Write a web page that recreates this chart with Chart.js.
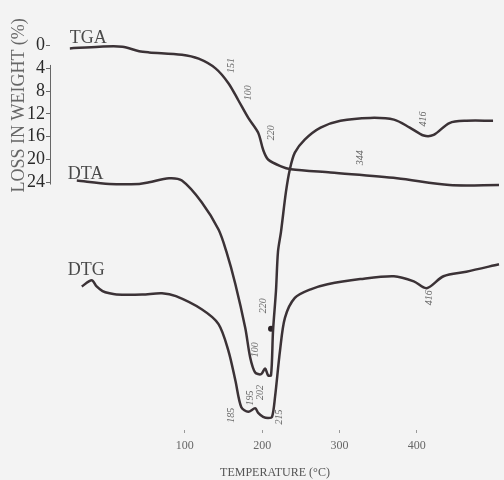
<!DOCTYPE html>
<html>
<head>
<meta charset="utf-8">
<script src="https://cdn.jsdelivr.net/npm/chart.js@4/dist/chart.umd.min.js"></script>
<style>
    html, body { margin: 0; padding: 0; background: #f3f3f3; }
    #wrap { width: 504px; height: 480px; }
</style>
</head>
<body>
<div id="wrap"><canvas id="thermo" width="504" height="480"></canvas></div>
<script>
// temperature in degC, loss in weight in % (DTA / DTG share the same vertical units, offset below)
const tgaTemp = [-48.7, -10.3, 19.2, 41.0, 53.8, 96.2, 117.9, 139.7, 156.4, 169.2, 182.1, 194.9, 201.3, 207.7, 224.4, 237.2, 288.5, 374.4, 442.3, 506.4];
const tgaLoss = [0.5, 0.2, 0.2, 1.0, 1.2, 1.6, 2.3, 4.0, 6.6, 9.6, 12.7, 15.3, 18.3, 20.0, 21.2, 21.7, 22.3, 23.3, 24.5, 24.5];

const dtaTemp = [-39.7, 2.6, 41.0, 53.8, 79.5, 96.2, 121.8, 143.6, 153.8, 165.4, 178.2, 184.6, 191.0, 198.7, 203.8, 207.7, 211.5, 214.1, 217.9, 220.5, 224.4, 230.8, 235.9, 242.3, 255.1, 275.6, 301.3, 339.7, 370.5, 391.0, 409.0, 421.8, 442.3, 464.1, 498.7];
const dtaVal = [23.7, 24.3, 24.3, 24.0, 23.3, 23.7, 27.5, 32.3, 36.2, 41.9, 49.6, 54.8, 57.4, 57.7, 56.7, 57.9, 57.9, 50.1, 43.1, 36.2, 32.7, 25.7, 21.7, 18.8, 16.5, 14.4, 13.2, 12.7, 13.0, 14.4, 15.8, 15.7, 13.6, 13.2, 13.2];

const dtgTemp = [-33.3, -20.5, -14.1, -6.4, 2.6, 11.5, 44.9, 70.5, 88.5, 121.8, 143.6, 156.4, 165.4, 173.1, 182.1, 191.0, 194.9, 201.3, 207.7, 212.8, 216.7, 223.1, 229.5, 242.3, 262.8, 284.6, 326.9, 370.5, 396.2, 412.8, 434.6, 464.1, 506.4];
const dtgVal = [42.3, 41.2, 42.3, 43.1, 43.5, 43.7, 43.7, 43.5, 44.0, 46.3, 48.9, 53.6, 58.8, 63.5, 64.3, 63.7, 64.5, 65.2, 65.4, 65.2, 61.7, 53.6, 47.8, 44.3, 42.8, 41.9, 41.0, 40.5, 41.4, 42.6, 40.5, 39.7, 38.4];

const blobTemp = [211.5];
const blobVal = [49.7];

const xTicks = [100, 200, 300, 400];
const yTicks = [0, 4, 8, 12, 16, 20, 24];

const curveNames = ['TGA', 'DTA', 'DTG'];
const nameTemp = [-48.7, -51.3, -51.3];
const nameVal = [-0.4, 23.5, 40.2];

const noteText = ['151', '100', '220', '344', '416', '220', '100', '185', '195', '202', '215', '416'];
const noteTemp = [160.3, 182.1, 211.5, 326.9, 409.0, 201.3, 191.0, 160.3, 184.6, 197.4, 221.8, 416.7];
const noteVal = [3.5, 8.3, 15.3, 19.7, 12.9, 45.7, 53.4, 64.9, 61.9, 60.9, 65.2, 44.3];

const ink = '#3b3236';
const serif = '"Liberation Serif", "DejaVu Serif", serif';

const toPoints = (xs, ys) => xs.map((t, i) => ({ x: t, y: ys[i] }));

const lineSet = (label, xs, ys) => ({
    label: label,
    data: toPoints(xs, ys),
    borderColor: ink,
    borderWidth: 2.5,
    pointRadius: 0,
    tension: 0.3,
    fill: false
});

// no extra room for edge labels, the chart area is set by the fixed axis sizes
const noPad = s => {
    s.paddingTop = 0;
    s.paddingBottom = 0;
    s.paddingLeft = 0;
    s.paddingRight = 0;
};

const decor = {
    id: 'decor',
    beforeDraw(chart) {
        const ctx = chart.ctx;
        ctx.save();
        ctx.fillStyle = '#f3f3f3';
        ctx.fillRect(0, 0, chart.width, chart.height);
        ctx.restore();
    },
    afterDraw(chart) {
        const { ctx, scales: { x, y } } = chart;
        ctx.save();

        // short axis line beside the 4..24 ticks
        ctx.strokeStyle = '#666';
        ctx.lineWidth = 1;
        ctx.beginPath();
        ctx.moveTo(x.left + 0.5, y.getPixelForValue(3.4));
        ctx.lineTo(x.left + 0.5, y.getPixelForValue(24.4));
        ctx.stroke();

        // y title
        ctx.save();
        ctx.translate(19, (y.getPixelForValue(-5) + y.getPixelForValue(26)) / 2);
        ctx.rotate(-Math.PI / 2);
        ctx.textAlign = 'center';
        ctx.textBaseline = 'middle';
        ctx.fillStyle = '#666';
        ctx.font = '18px ' + serif;
        ctx.fillText('LOSS IN WEIGHT (%)', 0, 0);
        ctx.restore();

        // curve names
        ctx.fillStyle = '#4a4a4a';
        ctx.font = '18px ' + serif;
        ctx.textAlign = 'left';
        ctx.textBaseline = 'alphabetic';
        curveNames.forEach((n, i) => {
            ctx.fillText(n, x.getPixelForValue(nameTemp[i]), y.getPixelForValue(nameVal[i]));
        });

        // peak temperatures written along the curves
        ctx.fillStyle = '#666';
        ctx.font = 'italic 10px ' + serif;
        ctx.textAlign = 'center';
        ctx.textBaseline = 'middle';
        noteText.forEach((t, i) => {
            ctx.save();
            ctx.translate(x.getPixelForValue(noteTemp[i]), y.getPixelForValue(noteVal[i]));
            ctx.rotate(-Math.PI / 2);
            ctx.fillText(t, 0, 0);
            ctx.restore();
        });

        ctx.restore();
    }
};

new Chart(document.getElementById('thermo'), {
    type: 'line',
    data: {
        datasets: [
            lineSet('TGA', tgaTemp, tgaLoss),
            lineSet('DTA', dtaTemp, dtaVal),
            lineSet('DTG', dtgTemp, dtgVal),
            {
                type: 'scatter',
                label: 'mark',
                data: toPoints(blobTemp, blobVal),
                pointRadius: 3,
                pointBackgroundColor: '#2a2226',
                pointBorderWidth: 0
            }
        ]
    },
    options: {
        responsive: false,
        animation: false,
        events: [],
        layout: { padding: 0 },
        plugins: {
            legend: { display: false },
            tooltip: { enabled: false }
        },
        scales: {
            x: {
                type: 'linear',
                min: -74.4,
                max: 507.7,
                afterFit: s => { s.height = 50; noPad(s); },
                afterBuildTicks: s => { s.ticks = xTicks.map(v => ({ value: v })); },
                border: { display: false },
                grid: { drawOnChartArea: false, tickLength: 3, color: '#999' },
                ticks: {
                    color: '#666',
                    font: { family: serif, size: 12 },
                    padding: 6,
                    maxRotation: 0
                },
                title: {
                    display: true,
                    text: 'TEMPERATURE (°C)',
                    color: '#555',
                    font: { family: serif, size: 12 },
                    padding: { top: 6, bottom: 0 }
                }
            },
            y: {
                type: 'linear',
                reverse: true,
                min: -7.3,
                max: 67.5,
                afterFit: s => { s.width = 50; noPad(s); },
                afterBuildTicks: s => { s.ticks = yTicks.map(v => ({ value: v })); },
                border: { display: false },
                grid: { drawOnChartArea: false, tickLength: 4, color: '#666' },
                ticks: {
                    color: '#2a2a2a',
                    font: { family: serif, size: 18 },
                    padding: 1
                }
            }
        }
    },
    plugins: [decor]
});
</script>
</body>
</html>
